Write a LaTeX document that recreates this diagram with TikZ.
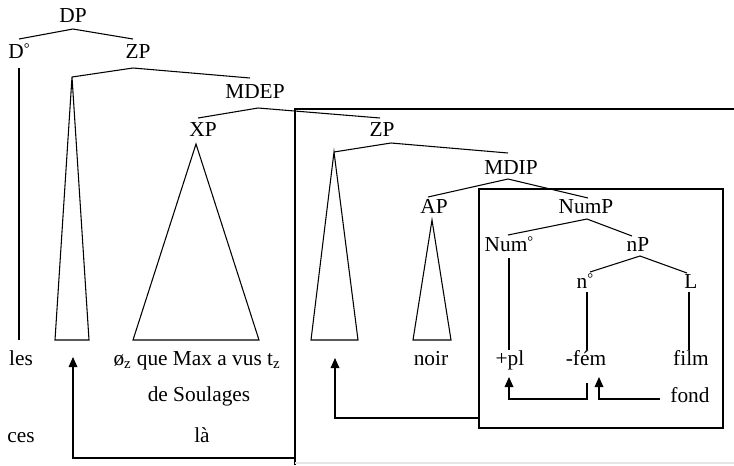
\documentclass[tikz,border=0pt]{standalone}
\usepackage{fontspec}
\setmainfont{Liberation Serif}
\usetikzlibrary{arrows.meta}
% small raised circle marking a head
\newcommand{\hd}{\raisebox{3.2pt}{\fontsize{11}{11}\selectfont °}}
\tikzset{
  lbl/.style={anchor=base,inner sep=0pt,font=\fontsize{16}{19}\selectfont},
  branch/.style={line width=0.8pt,line join=miter},
  boxline/.style={line width=0.9pt},
  mv/.style={line width=0.9pt,-{Triangle[length=7.5pt,width=6.5pt]}},
}
\begin{document}
\begin{tikzpicture}[x=0.75pt,y=-0.75pt]
\useasboundingbox (0,0) rectangle (734,465);

% ---- labels ----
\node[lbl] (DP)   at (73,22)  {DP};
\node[lbl] (D0)   at (19,58)  {D\hd};
\node[lbl] (ZP1)  at (138,58) {ZP};
\node[lbl] (MDEP) at (255,98) {MDEP};
\node[lbl] (XP)   at (203,136) {XP};
\node[lbl] (ZP2)  at (382,136) {ZP};
\node[lbl] (MDIP) at (511,174) {MDIP};
\node[lbl] (AP)   at (434,213) {AP};
\node[lbl] (NumP) at (586,213) {NumP};
\node[lbl] (Num0) at (509,251) {Num\hd};
\node[lbl] (nP)   at (638,251) {nP};
\node[lbl] (n0)   at (585,288) {n\hd};
\node[lbl] (L)    at (691,288) {L};
\node[lbl] (les)  at (21,365) {les};
\node[lbl] (rel)  at (197,365) {ø\textsubscript{z} que Max a vus t\textsubscript{z}};
\node[lbl] (soul) at (199,401) {de Soulages};
\node[lbl] (ces)  at (21,442) {ces};
\node[lbl] (la)   at (202,442) {là};
\node[lbl] (noir) at (431,365) {noir};
\node[lbl] (pl)   at (510,365) {+pl};
\node[lbl] (fem)  at (586,365) {-fém};
\node[lbl] (film) at (691,365) {film};
\node[lbl] (fond) at (690,402) {fond};

% ---- branching points and branch ends ----
\coordinate (DPa) at (73,29);   \coordinate (D0t) at (19,39);   \coordinate (ZP1t) at (133,39);
\coordinate (ZP1a) at (133,68); \coordinate (T1a) at (72,77);   \coordinate (MDEPt) at (250,78);
\coordinate (MDEPa) at (258,108); \coordinate (XPt) at (198,118); \coordinate (ZP2t) at (380,118);
\coordinate (ZP2a) at (391,143); \coordinate (T3a) at (334,152); \coordinate (MDIPt) at (508,153);
\coordinate (MDIPa) at (508,179); \coordinate (APt) at (428,197); \coordinate (NumPt) at (588,198);
\coordinate (NumPa) at (587,219); \coordinate (Num0t) at (508,235); \coordinate (nPt) at (632,236);
\coordinate (nPa) at (640,256); \coordinate (n0t) at (590,272); \coordinate (Lt) at (687,273);

% ---- branches ----
\draw[branch] (D0t) -- (DPa) -- (ZP1t);
\draw[branch] (T1a) -- (ZP1a) -- (MDEPt);
\draw[branch] (XPt) -- (MDEPa) -- (ZP2t);
\draw[branch] (T3a) -- (ZP2a) -- (MDIPt);
\draw[branch] (APt) -- (MDIPa) -- (NumPt);
\draw[branch] (Num0t) -- (NumPa) -- (nPt);
\draw[branch] (n0t) -- (nPa) -- (Lt);

% ---- vertical projections ----
\coordinate (D0b) at (19,68);   \coordinate (lesT) at (19,340);
\draw[branch] (D0b) -- (lesT);
\coordinate (Num0b) at (509,258); \coordinate (plT) at (509,350);
\draw[branch] (Num0b) -- (plT);
\coordinate (n0b) at (587,292); \coordinate (femT) at (587,350);
\draw[branch] (n0b) -- (femT);
\coordinate (Lb) at (689,292); \coordinate (filmT) at (689,350);
\draw[branch] (Lb) -- (filmT);

% ---- triangles ----
\draw[branch] (T1a) -- (55,340) -- (89,340) -- cycle;
\coordinate (XPa) at (196,144);
\draw[branch] (XPa) -- (133,340) -- (259,340) -- cycle;
\draw[branch] (T3a) -- (311,340) -- (358,340) -- cycle;
\coordinate (APa) at (432,220);
\draw[branch] (APa) -- (413,340) -- (451,340) -- cycle;

% ---- boxes ----
\coordinate (BigTL) at (295,109);
\draw[boxline] (295,465) -- (BigTL) -- (734,109);
\draw[gray!20,line width=0.8pt] (295,463) -- (734,463);
\coordinate (InnerTL) at (479,189);
\draw[boxline] (InnerTL) rectangle (723,428);

% ---- movement arrows ----
\coordinate (bigOut) at (295,458);
\draw[mv] (bigOut) -- (73,458) -- (73,357);
\coordinate (innerOut) at (479,418);
\draw[mv] (innerOut) -- (335,418) -- (335,358);
\coordinate (femOut) at (587,383);
\draw[mv] (femOut) -- (587,399) -- (509,399) -- (509,377);
\coordinate (fondOut) at (660,399);
\draw[mv] (fondOut) -- (599,399) -- (599,377);
\end{tikzpicture}
\end{document}
